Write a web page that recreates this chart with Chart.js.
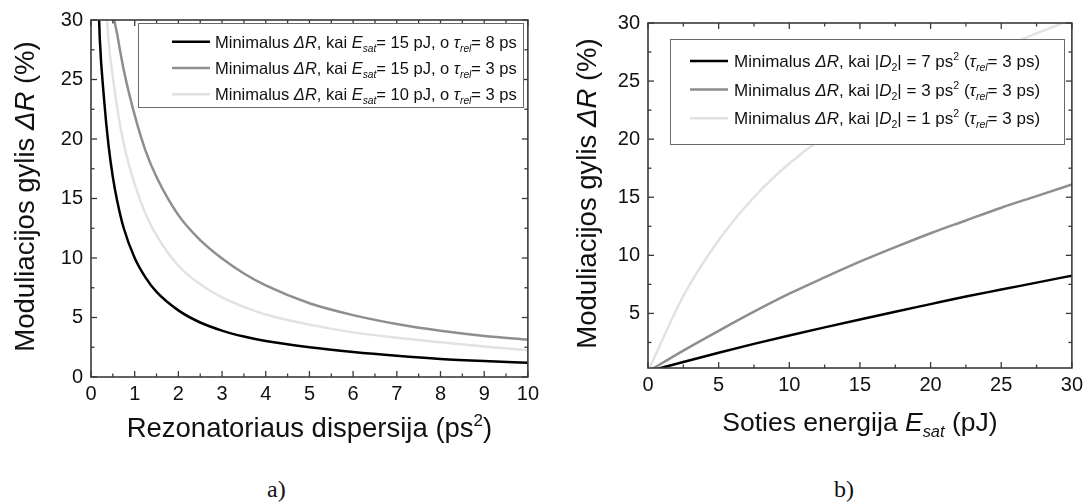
<!DOCTYPE html>
<html>
<head>
<meta charset="utf-8">
<script src="https://cdn.jsdelivr.net/npm/chart.js@4.4.1/dist/chart.umd.min.js"></script>
<style>
  html, body { margin: 0; padding: 0; background: #fff; }
  body { width: 1088px; height: 504px; position: relative; overflow: hidden; }
  .panel { position: absolute; top: 0; width: 544px; height: 460px; }
  #panelA { left: 0; }
  #panelB { left: 544px; }
  .cap { position: absolute; top: 477px; line-height: 24px; font-family: "Liberation Serif", "Times New Roman", serif; font-size: 24px; color: #111; }
</style>
</head>
<body>
<div class="panel" id="panelA"><canvas id="chartA"></canvas></div>
<div class="panel" id="panelB"><canvas id="chartB"></canvas></div>
<div class="cap" style="left:267px">a)</div>
<div class="cap" style="left:834px">b)</div>
<script>
// a) modulation depth vs cavity dispersion
const leftX = [0.15, 0.2, 0.3, 0.4, 0.5, 0.6, 0.75, 1, 1.25, 1.5, 2, 2.5, 3, 3.5, 4, 5, 6, 7, 8, 9, 10];
const leftBlack = [34, 28.5, 23.3, 19.5, 16.8, 14.8, 12.5, 10, 8.35, 7.15, 5.6, 4.58, 3.9, 3.4, 3.02, 2.5, 2.1, 1.78, 1.52, 1.34, 1.2];
const leftGray = [null, null, null, 37, 31, 28.8, 25.8, 22.0, 19.0, 16.8, 13.6, 11.5, 9.95, 8.7, 7.7, 6.2, 5.2, 4.45, 3.88, 3.45, 3.15];
const leftLight = [null, null, 34, 28.3, 25.2, 22.6, 19.6, 16.2, 13.7, 11.9, 9.35, 7.8, 6.7, 5.9, 5.25, 4.4, 3.75, 3.3, 2.92, 2.57, 2.25];
const leftXTicks = [0, 1, 2, 3, 4, 5, 6, 7, 8, 9, 10];
const leftYTicks = [0, 5, 10, 15, 20, 25, 30];

// b) modulation depth vs saturation energy
const rightX = [0, 2.5, 5, 7.5, 10, 12.5, 15, 17.5, 20, 22.5, 25, 27.5, 30];
const rightBlack = [0, 0.82, 1.62, 2.38, 3.1, 3.8, 4.48, 5.15, 5.8, 6.45, 7.05, 7.65, 8.25];
const rightGray = [0, 1.8, 3.5, 5.15, 6.7, 8.1, 9.45, 10.7, 11.9, 13.0, 14.1, 15.1, 16.1];
const rightLight = [0, 6.5, 11.3, 15.0, 17.9, 20.2, 22.0, 23.7, 25.2, 26.6, 27.9, 29.1, 30.3];
const rightXTicks = [0, 5, 10, 15, 20, 25, 30];
const rightYTicks = [5, 10, 15, 20, 25, 30];

const FONT = '"Liberation Sans", Arial, sans-serif';
const COLORS = ['#000000', '#8e8e8e', '#e2e2e2'];
const AXIS = '#3a3a3a';

const yTitle = [['Moduliacijos gylis ', ''], ['ΔR', 'i'], [' (%)', '']];
const leftXTitle = [['Rezonatoriaus dispersija (ps', ''], ['2', 'sup'], [')', '']];
const rightXTitle = [['Soties energija ', ''], ['E', 'i'], ['sat', 'isub'], [' (pJ)', '']];

const leftLegend = [
  [['Minimalus ', ''], ['ΔR', 'i'], [', kai ', ''], ['E', 'i'], ['sat', 'isub'], ['= 15 pJ, o ', ''], ['τ', 'i'], ['rel', 'isub'], ['= 8 ps', '']],
  [['Minimalus ', ''], ['ΔR', 'i'], [', kai ', ''], ['E', 'i'], ['sat', 'isub'], ['= 15 pJ, o ', ''], ['τ', 'i'], ['rel', 'isub'], ['= 3 ps', '']],
  [['Minimalus ', ''], ['ΔR', 'i'], [', kai ', ''], ['E', 'i'], ['sat', 'isub'], ['= 10 pJ, o ', ''], ['τ', 'i'], ['rel', 'isub'], ['= 3 ps', '']]
];
const rightLegend = ['7', '3', '1'].map(d => [
  ['Minimalus ', ''], ['ΔR', 'i'], [', kai |', ''], ['D', 'i'], ['2', 'sub'], ['| = ' + d + ' ps', ''], ['2', 'sup'],
  [' (', ''], ['τ', 'i'], ['rel', 'isub'], ['= 3 ps)', '']
]);

function drawRich(ctx, segs, x, y, size, align) {
  let w = 0;
  const parts = segs.map(([t, s]) => {
    const small = s.includes('sub') || s === 'sup';
    const fs = small ? size * 0.62 : size;
    const font = (s.startsWith('i') ? 'italic ' : '') + fs + 'px ' + FONT;
    ctx.font = font;
    const tw = ctx.measureText(t).width;
    const dy = s.includes('sub') ? size * 0.24 : s === 'sup' ? -size * 0.4 : 0;
    w += tw;
    return { t, font, tw, dy };
  });
  let cx = align === 'center' ? x - w / 2 : x;
  ctx.textAlign = 'left';
  ctx.textBaseline = 'alphabetic';
  for (const p of parts) {
    ctx.font = p.font;
    ctx.fillText(p.t, cx, y + p.dy);
    cx += p.tw;
  }
}

function minors(ticks, scale) {
  const step = ticks[1] - ticks[0];
  return ticks.map(t => t + step / 2).concat([ticks[0] - step / 2])
    .filter(v => v > scale.min && v < scale.max);
}

const decor = {
  id: 'decor',
  afterDraw(chart, args, o) {
    const { ctx, chartArea: a, scales: { x, y } } = chart;
    ctx.save();
    ctx.strokeStyle = AXIS;
    ctx.lineWidth = 1.3;
    const seg = (x0, y0, x1, y1) => { ctx.beginPath(); ctx.moveTo(x0, y0); ctx.lineTo(x1, y1); ctx.stroke(); };
    const tx = (v, len) => { const p = x.getPixelForValue(v); seg(p, a.bottom, p, a.bottom - len); seg(p, a.top, p, a.top + len); };
    const ty = (v, len) => { const p = y.getPixelForValue(v); seg(a.left, p, a.left + len, p); seg(a.right, p, a.right - len, p); };
    o.xTicks.forEach(v => tx(v, 6));
    minors(o.xTicks, x).forEach(v => tx(v, 3.5));
    o.yTicks.forEach(v => ty(v, 6));
    minors(o.yTicks, y).forEach(v => ty(v, 3.5));
    ctx.lineWidth = 1.6;
    ctx.strokeRect(a.left, a.top, a.right - a.left, a.bottom - a.top);

    // legend
    const L = o.legend;
    ctx.fillStyle = '#fff';
    ctx.fillRect(L.x, L.y, L.w, L.h);
    ctx.strokeStyle = '#6a6a6a';
    ctx.lineWidth = 1;
    ctx.strokeRect(L.x + 0.5, L.y + 0.5, L.w, L.h);
    L.rows.forEach((row, i) => {
      const ry = L.row0 + i * L.rowStep;
      ctx.strokeStyle = COLORS[i];
      ctx.lineWidth = 2.5;
      seg(L.s0, ry, L.s1, ry);
      ctx.fillStyle = '#111';
      drawRich(ctx, row, L.tx, ry + 6, L.size, 'left');
    });

    // axis titles
    ctx.fillStyle = '#111';
    drawRich(ctx, o.xTitle, (a.left + a.right) / 2, o.xTitleY, o.xTitleSize, 'center');
    ctx.save();
    ctx.translate(o.yTitleX, (a.top + a.bottom) / 2 - 2);
    ctx.rotate(-Math.PI / 2);
    drawRich(ctx, yTitle, 0, 0, 27.5, 'center');
    ctx.restore();
    ctx.restore();
  }
};

function buildChart(id, o) {
  return new Chart(document.getElementById(id), {
    type: 'line',
    data: {
      datasets: o.series.map((s, i) => ({
        data: o.x.map((xv, j) => ({ x: xv, y: s[j] })),
        borderColor: COLORS[i],
        borderWidth: 2.5,
        pointRadius: 0,
        fill: false,
        cubicInterpolationMode: 'monotone',
        order: 3 - i
      }))
    },
    options: {
      responsive: true,
      maintainAspectRatio: false,
      animation: false,
      layout: { padding: o.padding },
      plugins: { legend: { display: false }, tooltip: { enabled: false }, decor: o.decor },
      scales: {
        x: {
          type: 'linear', min: o.xMin, max: o.xMax,
          afterBuildTicks: s => { s.ticks = o.decor.xTicks.map(v => ({ value: v })); },
          afterFit: s => { s.height = o.xHeight; },
          grid: { display: false, drawTicks: false },
          border: { display: false },
          ticks: { padding: 5, color: '#111', font: { family: FONT, size: 20 }, maxRotation: 0 }
        },
        y: {
          type: 'linear', min: o.yMin, max: o.yMax,
          afterBuildTicks: s => { s.ticks = o.decor.yTicks.map(v => ({ value: v })); },
          afterFit: s => { s.width = o.yWidth; },
          grid: { display: false, drawTicks: false },
          border: { display: false },
          ticks: { padding: 8, color: '#111', font: { family: FONT, size: 20 } }
        }
      }
    },
    plugins: [decor]
  });
}

buildChart('chartA', {
  x: leftX, series: [leftBlack, leftGray, leftLight],
  xMin: 0, xMax: 10, yMin: 0, yMax: 30,
  padding: { top: 17, right: 8, left: 0, bottom: 0 }, xHeight: 83, yWidth: 91,
  decor: {
    xTicks: leftXTicks, yTicks: leftYTicks,
    xTitle: leftXTitle, xTitleY: 437, xTitleSize: 27.5, yTitleX: 34,
    legend: { x: 138, y: 23, w: 385, h: 84, row0: 41.7, rowStep: 26.3, s0: 172, s1: 210, tx: 215, size: 16.5, rows: leftLegend }
  }
});

buildChart('chartB', {
  x: rightX, series: [rightBlack, rightGray, rightLight],
  xMin: 0, xMax: 30, yMin: 0.3, yMax: 30,
  padding: { top: 23, right: 15.5, left: 0, bottom: 0 }, xHeight: 92, yWidth: 104,
  decor: {
    xTicks: rightXTicks, yTicks: rightYTicks,
    xTitle: rightXTitle, xTitleY: 431, xTitleSize: 26.5, yTitleX: 52,
    legend: { x: 126, y: 39, w: 394, h: 105, row0: 61, rowStep: 28.6, s0: 146, s1: 184, tx: 190, size: 17, rows: rightLegend }
  }
});
</script>
</body>
</html>
